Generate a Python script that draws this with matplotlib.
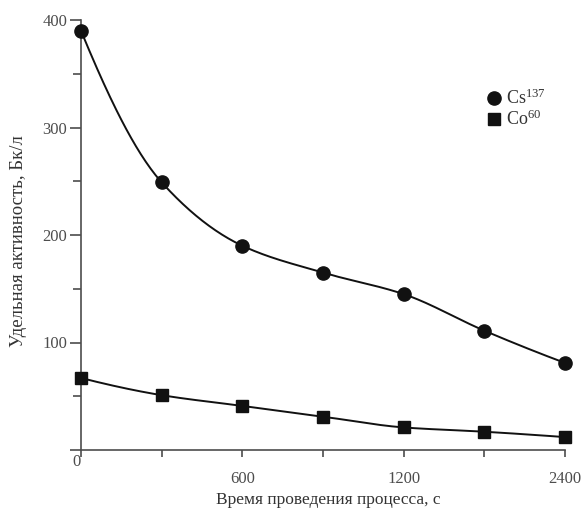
import numpy as np
import matplotlib
matplotlib.use("Agg")
import matplotlib.pyplot as plt

plt.rcParams['font.family'] = ['Liberation Serif', 'DejaVu Serif']
plt.rcParams['mathtext.fontset'] = 'custom'
plt.rcParams['mathtext.rm'] = 'Liberation Serif'
plt.rcParams['mathtext.default'] = 'regular'

# measurement times, s (axis is drawn with evenly spaced ticks)
times = [0, 300, 600, 900, 1200, 1800, 2400]
time_labels = ['', '', '600', '', '1200', '', '2400']
cs137 = [390, 249, 190, 165, 145, 111, 81]
co60 = [67, 51, 41, 31, 21, 17, 12]


def pchip(x, y, n=300):
    # monotone cubic hermite curve through the points
    x = np.asarray(x, float)
    y = np.asarray(y, float)
    h = np.diff(x)
    dl = np.diff(y) / h
    d = np.zeros_like(y)
    for k in range(1, len(x) - 1):
        if dl[k - 1] * dl[k] > 0:
            w1 = 2 * h[k] + h[k - 1]
            w2 = h[k] + 2 * h[k - 1]
            d[k] = (w1 + w2) / (w1 / dl[k - 1] + w2 / dl[k])
    def end(h0, h1, d0, d1):
        v = ((2 * h0 + h1) * d0 - h0 * d1) / (h0 + h1)
        if np.sign(v) != np.sign(d0):
            v = 0
        elif np.sign(d0) != np.sign(d1) and abs(v) > abs(3 * d0):
            v = 3 * d0
        return v
    d[0] = end(h[0], h[1], dl[0], dl[1])
    d[-1] = end(h[-1], h[-2], dl[-1], dl[-2])
    xs = np.linspace(x[0], x[-1], n)
    j = np.clip(np.searchsorted(x, xs) - 1, 0, len(x) - 2)
    t = (xs - x[j]) / h[j]
    h00 = 2 * t**3 - 3 * t**2 + 1
    h10 = t**3 - 2 * t**2 + t
    h01 = -2 * t**3 + 3 * t**2
    h11 = t**3 - t**2
    ys = h00 * y[j] + h10 * h[j] * d[j] + h01 * y[j + 1] + h11 * h[j] * d[j + 1]
    return xs, ys


pos = np.arange(len(times))
ink = '#111111'
grey = '#4d4d4d'

fig = plt.figure(figsize=(5.84, 5.09), dpi=100)
ax = fig.add_axes([81 / 584, 1 - 450 / 509, 484 / 584, 430 / 509])

for vals, mk, ms, lab in [(cs137, 'o', 9.5, r'Cs$^{137}$'), (co60, 's', 8.5, r'Co$^{60}$')]:
    xs, ys = pchip(pos, vals)
    ax.plot(xs, ys, color=ink, lw=1.4, clip_on=False)
    ax.plot(pos, vals, linestyle='none', marker=mk, ms=ms, color=ink, label=lab, clip_on=False, zorder=3)

ax.set_xlim(0, 6)
ax.set_ylim(0, 400)
for s in ['top', 'right']:
    ax.spines[s].set_visible(False)
for s in ['left', 'bottom']:
    ax.spines[s].set_color(grey)
    ax.spines[s].set_linewidth(1.2)

ax.set_xticks(pos)
ax.set_xticklabels(time_labels)
ax.set_yticks([0, 100, 200, 300, 400])
ax.set_yticklabels(['', '100', '200', '300', '400'])
ax.set_yticks([50, 150, 250, 350], minor=True)
ax.tick_params(axis='x', length=5, width=1.2, color=grey, pad=10, labelsize=12, labelcolor=grey)
ax.tick_params(axis='y', which='major', length=8, width=1.2, color=grey, pad=2, labelsize=12, labelcolor=grey)
ax.tick_params(axis='y', which='minor', length=6, width=1.2, color=grey)
ax.annotate('0', xy=(0, 0), xytext=(-3, -9), textcoords='offset points',
            ha='center', va='center', fontsize=12, color=grey)

ax.set_xlabel('Время проведения процесса, с', fontsize=12.5, color='#333333')
ax.set_ylabel('Удельная активность, Бк/л', fontsize=13.5, color='#333333')
ax.xaxis.set_label_coords(0.51, -0.097)
ax.yaxis.set_label_coords(-0.112, 0.486)

ax.legend(loc='center left', bbox_to_anchor=(0.819, 0.793), frameon=False, fontsize=13,
          handlelength=0.8, handletextpad=0.3, labelspacing=0.1, borderpad=0, labelcolor='#333333')

fig.savefig('out.png', dpi=100)
